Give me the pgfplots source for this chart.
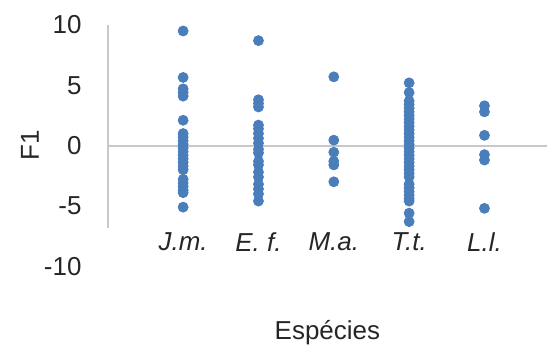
\documentclass[border=0pt]{standalone}
\usepackage{pgfplots}
\pgfplotsset{compat=1.18}
\usepackage{fontspec}
\setmainfont{Liberation Sans}
\definecolor{dotblue}{RGB}{74,126,187}
\definecolor{linegray}{RGB}{200,200,200}
\definecolor{txt}{RGB}{38,38,38}
\begin{document}
\begin{tikzpicture}
\begin{axis}[
  scale only axis,
  width=220pt, height=139pt,
  xmin=0, xmax=5.83,
  ymin=-13, ymax=10,
  axis line style={draw=none},
  major tick length=0pt,
  xtick=\empty,
  ytick={-10,-5,0,5,10},
  yticklabel style={inner sep=0pt, xshift=-13pt, font=\fontsize{13}{15}\selectfont, text=txt},
  /pgf/number format/assume math mode=true,
  clip=false,
]
\draw[linegray, line width=1pt] (axis cs:0,10) -- (axis cs:0,-6.8);
\draw[linegray, line width=1pt] (axis cs:0,0) -- (axis cs:5.83,0);
\addplot[only marks, mark=*, mark size=2.5pt, color=dotblue, mark options={draw=dotblue, fill=dotblue}] table {
x y
1 9.5
1 5.65
1 4.7
1 4.4
1 4.1
1 2.1
1 1.0
1 0.7
1 0.4
1 0.1
1 -0.2
1 -0.5
1 -0.8
1 -1.1
1 -1.4
1 -1.7
1 -2.0
1 -2.8
1 -3.1
1 -3.4
1 -3.7
1 -3.9
1 -5.1
2 8.7
2 3.8
2 3.5
2 3.2
2 1.7
2 1.4
2 1.0
2 0.6
2 0.2
2 -0.3
2 -0.6
2 -1.3
2 -1.6
2 -2.2
2 -2.6
2 -3.2
2 -3.6
2 -4.0
2 -4.6
3 5.7
3 0.45
3 -0.55
3 -1.3
3 -1.6
3 -3.0
4 5.2
4 4.4
4 3.7
4 3.4
4 3.1
4 2.8
4 2.5
4 2.2
4 1.9
4 1.6
4 1.3
4 1.0
4 0.7
4 0.4
4 0.1
4 -0.2
4 -0.5
4 -0.8
4 -1.1
4 -1.4
4 -1.7
4 -2.0
4 -2.3
4 -2.6
4 -3.2
4 -3.5
4 -3.8
4 -4.1
4 -4.4
4 -4.6
4 -5.6
4 -6.3
5 3.3
5 2.8
5 0.85
5 -0.75
5 -1.2
5 -5.2
};
\node[font=\fontsize{13}{15}\selectfont\itshape, text=txt] at (axis cs:1,-8.0) {J.m.};
\node[font=\fontsize{13}{15}\selectfont\itshape, text=txt] at (axis cs:2,-8.0) {E. f.};
\node[font=\fontsize{13}{15}\selectfont\itshape, text=txt] at (axis cs:3,-8.0) {M.a.};
\node[font=\fontsize{13}{15}\selectfont\itshape, text=txt] at (axis cs:4,-8.0) {T.t.};
\node[font=\fontsize{13}{15}\selectfont\itshape, text=txt] at (axis cs:5,-8.0) {L.l.};
\node[rotate=90, font=\fontsize{13}{15}\selectfont, text=txt] at ([xshift=-39pt]axis cs:0,0) {F1};
\end{axis}
\node[font=\fontsize{13}{15}\selectfont, text=txt] at ([yshift=-15pt]current axis.south) {Espécies};
\path ([xshift=-54pt, yshift=-21pt]current axis.south west) rectangle ([yshift=12.5pt]current axis.north east);
\end{tikzpicture}
\end{document}
